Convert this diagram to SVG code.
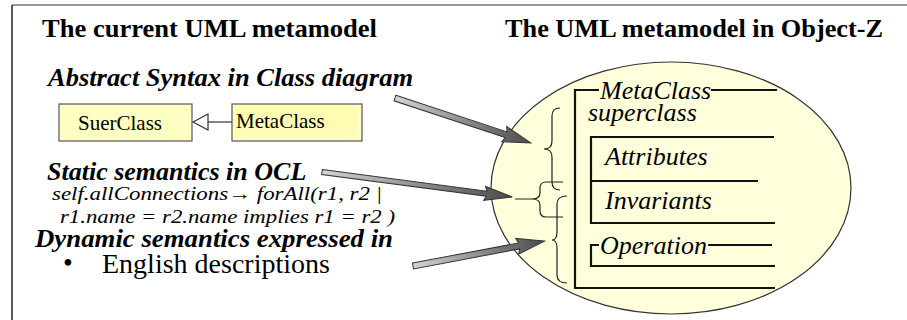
<svg xmlns="http://www.w3.org/2000/svg" width="907" height="320" viewBox="0 0 907 320">
<defs>
<style>
text{font-family:"Liberation Serif","Times New Roman",serif;fill:#000}
.title{font-weight:bold;font-size:26px}
.bi{font-weight:bold;font-style:italic;font-size:26px}
.it{font-style:italic;font-size:26px}
.ocl{font-style:italic;font-size:19px}
.reg{font-size:21px}
.big{font-size:28px}
.box{fill:#ffffc4;stroke:#555;stroke-width:1.2}
.z{stroke:#111;stroke-width:2.2;fill:none}
.brace{stroke:#222;stroke-width:1.2;fill:none}
.arrow{fill:url(#ag);stroke:#333;stroke-width:1}
</style>
<linearGradient id="ag" x1="0" y1="0" x2="1" y2="0">
<stop offset="0" stop-color="#d4d4d4"/>
<stop offset="1" stop-color="#4a4a4a"/>
</linearGradient>
</defs>
<rect width="907" height="320" fill="#fff"/>
<g id="frame">
<line x1="12" y1="5" x2="907" y2="5" stroke="#777" stroke-width="1.5"/>
<line x1="12" y1="5" x2="12" y2="320" stroke="#222" stroke-width="1.5"/>
</g>
<g id="left-texts">
<text class="title" x="42" y="37" textLength="335" lengthAdjust="spacingAndGlyphs">The current UML metamodel</text>
<text class="bi" x="48" y="86" textLength="365" lengthAdjust="spacingAndGlyphs">Abstract Syntax in Class diagram</text>
<text class="bi" x="47" y="180">Static semantics in OCL</text>
<text class="ocl" x="52" y="200" textLength="330" lengthAdjust="spacingAndGlyphs">self.allConnections→ forAll(r1, r2 |</text>
<text class="ocl" x="60" y="223" textLength="335" lengthAdjust="spacingAndGlyphs">r1.name = r2.name implies  r1 = r2 )</text>
<text class="bi" x="35" y="247" textLength="358" lengthAdjust="spacingAndGlyphs">Dynamic semantics expressed in</text>
<text class="big" x="63" y="272">•</text>
<text class="big" x="102" y="273">English descriptions</text>
</g>
<g id="SuerClass">
<rect class="box" x="59" y="104" width="133" height="37"/>
<text class="reg" x="78" y="130">SuerClass</text>
</g>
<g id="MetaClass">
<rect class="box" x="232" y="104" width="130" height="37"/>
<rect x="235" y="106" width="122" height="29" fill="#fdf8a8" opacity="0.6"/>
<text class="reg" x="236" y="128">MetaClass</text>
</g>
<g id="right">
<text class="title" x="505" y="37" textLength="378" lengthAdjust="spacingAndGlyphs">The UML metamodel in Object-Z</text>
<ellipse cx="671" cy="188" rx="180" ry="126" fill="#ffffdc" stroke="#333" stroke-width="1.2"/>
<g id="schema">
<polyline class="z" points="599,90 575,90 575,288 775,288"/>
<line class="z" x1="711" y1="90" x2="777" y2="90"/>
<text class="it" x="600" y="99">MetaClass</text>
<text class="it" x="588" y="121">superclass</text>
<polyline class="z" points="774,137 591,137 591,223 775,223"/>
<line class="z" x1="591" y1="181" x2="758" y2="181"/>
<text class="it" x="605" y="165">Attributes</text>
<text class="it" x="605" y="209">Invariants</text>
<polyline class="z" points="599,245 591,245 591,266 775,266"/>
<line class="z" x1="708" y1="245" x2="772" y2="245"/>
<text class="it" x="600" y="254">Operation</text>
</g>
<path class="brace" d="M560,108 Q552,108 552,116 L552,141 Q552,149 544,149 Q552,149 552,157 L552,182 Q552,190 560,190"/>
<path class="brace" d="M563,182 L546,182 Q540,182 540,188 L540,193 Q540,199 532,199 L515,199 M532,199 Q540,199 540,205 L540,211 Q540,217 546,217 L563,217"/>
<path class="brace" d="M567,196 Q557,196 557,204 L557,232 Q557,240 552,240 Q557,240 557,248 L557,275 Q557,283 567,283"/>
</g>
<g id="connectors">
<path d="M193,122 L208,114 L208,130 Z" fill="#fff" stroke="#333" stroke-width="1.2"/>
<line x1="208" y1="122" x2="232" y2="122" stroke="#333" stroke-width="1.2"/>
<polygon class="arrow" transform="translate(395,98) rotate(18.3)" points="0,-3 117,-3 115,-8 143,0 115,8 117,3 0,3"/>
<polygon class="arrow" transform="translate(322,172) rotate(7.5)" points="0,-2.5 166,-2.5 164,-7 192,0 164,7 166,2.5 0,2.5"/>
<polygon class="arrow" transform="translate(413,266) rotate(-10.7)" points="0,-3 108,-3 106,-8 134,0 106,8 108,3 0,3"/>
</g>
</svg>
